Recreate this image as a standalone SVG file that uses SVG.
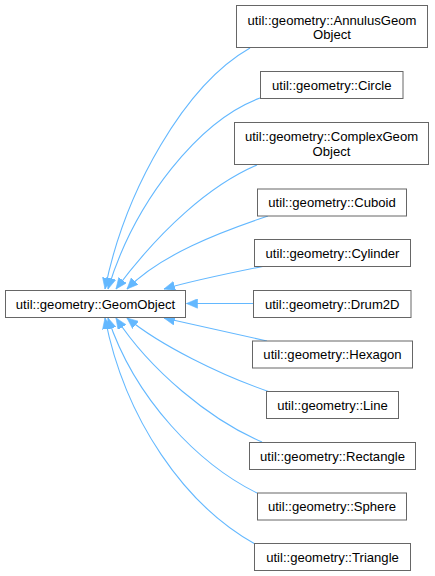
<svg xmlns="http://www.w3.org/2000/svg" width="435" height="576" viewBox="0 0 435 576">
<style>
.node rect{fill:#ffffff;stroke:#666666;stroke-width:1}
.node text{font-family:"Liberation Sans",Arial,Helvetica,sans-serif;font-size:13.1px;fill:#000000;text-anchor:middle}
.edges path{fill:none;stroke:#63b8ff;stroke-width:1.1}
</style>
<defs>
<marker id="ah" markerWidth="12" markerHeight="10" refX="11" refY="5" orient="auto" markerUnits="userSpaceOnUse">
<path d="M0,0.3 L11,5 L0,9.7 Z" fill="#63b8ff" stroke="#63b8ff" stroke-width="0.6"/>
</marker>
</defs>
<rect width="435" height="576" fill="#ffffff"/>
<g class="edges">
<path d="M250,48 C185,85 125,190 105,289" marker-end="url(#ah)"/>
<path d="M260,98 C200,120 135,200 108,289" marker-end="url(#ah)"/>
<path d="M257,165 C210,185 160,230 116,289" marker-end="url(#ah)"/>
<path d="M268,216 C220,232 160,255 127,289" marker-end="url(#ah)"/>
<path d="M265,266 C230,273 195,280 164,289" marker-end="url(#ah)"/>
<path d="M253,303.5 L186.5,303.5" marker-end="url(#ah)"/>
<path d="M267,341 C230,333 195,325 164,318" marker-end="url(#ah)"/>
<path d="M270,392 C220,375 160,345 127,318" marker-end="url(#ah)"/>
<path d="M262,442 C210,420 150,370 116,318" marker-end="url(#ah)"/>
<path d="M257,493 C200,465 135,400 108,318" marker-end="url(#ah)"/>
<path d="M255,544 C185,505 125,420 105,318" marker-end="url(#ah)"/>
</g>
<g id="node_GeomObject" class="node">
<rect x="5.5" y="290.5" width="180" height="27"/>
<text x="95.5" y="308.5">util::geometry::GeomObject</text>
</g>
<g id="node_AnnulusGeomObject" class="node">
<rect x="236.5" y="5.5" width="191" height="42"/>
<text x="332" y="24.5">util::geometry::AnnulusGeom</text>
<text x="332" y="39">Object</text>
</g>
<g id="node_Circle" class="node">
<rect x="260.5" y="71.5" width="142.5" height="27"/>
<text x="331.75" y="89.5">util::geometry::Circle</text>
</g>
<g id="node_ComplexGeomObject" class="node">
<rect x="234.5" y="122.5" width="194" height="42"/>
<text x="331.5" y="141">util::geometry::ComplexGeom</text>
<text x="331.5" y="155.5">Object</text>
</g>
<g id="node_Cuboid" class="node">
<rect x="257.5" y="189" width="149" height="27"/>
<text x="332" y="207">util::geometry::Cuboid</text>
</g>
<g id="node_Cylinder" class="node">
<rect x="254.5" y="239.5" width="156" height="27"/>
<text x="332.5" y="257.5">util::geometry::Cylinder</text>
</g>
<g id="node_Drum2D" class="node">
<rect x="253.5" y="290.5" width="157.5" height="27"/>
<text x="332.25" y="308.5">util::geometry::Drum2D</text>
</g>
<g id="node_Hexagon" class="node">
<rect x="252.5" y="341" width="160" height="27"/>
<text x="332.5" y="359">util::geometry::Hexagon</text>
</g>
<g id="node_Line" class="node">
<rect x="266.5" y="391.5" width="132" height="27"/>
<text x="332.5" y="409.5">util::geometry::Line</text>
</g>
<g id="node_Rectangle" class="node">
<rect x="249.5" y="442.5" width="166" height="27"/>
<text x="332.5" y="460.5">util::geometry::Rectangle</text>
</g>
<g id="node_Sphere" class="node">
<rect x="257.5" y="493" width="149" height="27"/>
<text x="332" y="511">util::geometry::Sphere</text>
</g>
<g id="node_Triangle" class="node">
<rect x="254.5" y="543.5" width="156" height="27"/>
<text x="332.5" y="561.5">util::geometry::Triangle</text>
</g>
</svg>
